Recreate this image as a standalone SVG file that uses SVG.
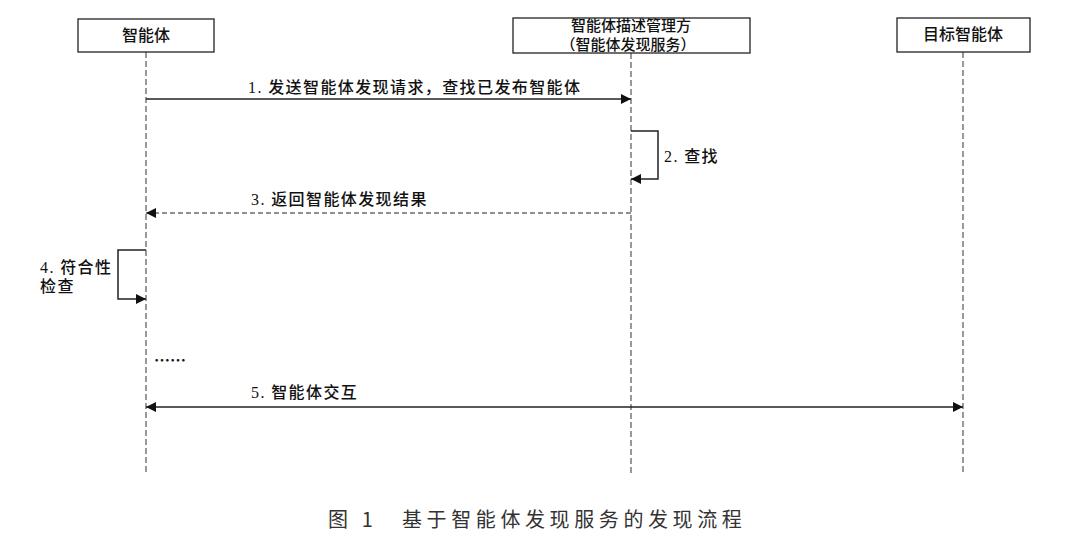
<svg xmlns="http://www.w3.org/2000/svg" width="1080" height="541" viewBox="0 0 1080 541">
<style>
.box{fill:#fff;stroke:#222;stroke-width:1.3}
.bt{font-family:"Noto Sans CJK SC","Liberation Sans",sans-serif;font-size:16px;fill:#111;text-anchor:middle;font-weight:500}
.bt2{font-family:"Noto Sans CJK SC","Liberation Sans",sans-serif;font-size:15px;fill:#111;text-anchor:middle;font-weight:500}
.lbl{font-family:"Liberation Serif","Noto Sans CJK SC",serif;font-size:16px;fill:#111;font-weight:500;letter-spacing:1.4px}
.life{stroke:#333;stroke-width:1;stroke-dasharray:6,3;fill:none}
.msg{stroke:#222;stroke-width:1.5;fill:none}
.dash{stroke:#222;stroke-width:1.2;stroke-dasharray:5,3;fill:none}
.cap{font-family:"Noto Sans CJK SC","Liberation Sans",sans-serif;font-size:20px;fill:#333;letter-spacing:4.6px}
</style>
<defs>
<marker id="ah" viewBox="0 0 10 10" refX="10" refY="5" markerWidth="10" markerHeight="10" markerUnits="userSpaceOnUse" orient="auto-start-reverse"><path d="M0,0 L10,5 L0,10 z" fill="#111"/></marker>
</defs>
<g id="lifelines">
<line class="life" x1="146" y1="52" x2="146" y2="473"/>
<line class="life" x1="631" y1="53" x2="631" y2="473"/>
<line class="life" x1="963" y1="52" x2="963" y2="473"/>
</g>
<g id="agent"><rect class="box" x="78" y="19" width="136" height="33"/><text class="bt" x="146" y="41">智能体</text></g>
<g id="registry"><rect class="box" x="513" y="18" width="237" height="35"/><text class="bt2" x="631" y="31">智能体描述管理方</text><text class="bt2" x="628" y="50">（智能体发现服务）</text></g>
<g id="target"><rect class="box" x="897" y="18" width="133" height="34"/><text class="bt" x="963" y="40">目标智能体</text></g>
<g id="connectors">
<line class="msg" x1="146" y1="99" x2="631" y2="99" marker-end="url(#ah)"/>
<polyline class="msg" points="631,131 658,131 658,179 631,179" marker-end="url(#ah)"/>
<line class="dash" x1="631" y1="213" x2="146" y2="213" marker-end="url(#ah)"/>
<polyline class="msg" points="146,250 118,250 118,299 146,299" marker-end="url(#ah)"/>
<line class="msg" x1="146" y1="407" x2="963" y2="407" marker-start="url(#ah)" marker-end="url(#ah)"/>
</g>
<g id="labels">
<text class="lbl" x="248" y="93">1. 发送智能体发现请求，查找已发布智能体</text>
<text class="lbl" x="664" y="162">2. 查找</text>
<text class="lbl" x="251" y="205">3. 返回智能体发现结果</text>
<text class="lbl" x="40" y="273">4. 符合性</text>
<text class="lbl" x="40" y="292">检查</text>
<text x="154" y="366" style="font-family:'Noto Sans CJK SC',sans-serif;font-size:16px;font-weight:700;fill:#111">……</text>
<text class="lbl" x="251" y="398">5. 智能体交互</text>
</g>
<text class="cap" x="328" y="527">图 1　基于智能体发现服务的发现流程</text>
</svg>
